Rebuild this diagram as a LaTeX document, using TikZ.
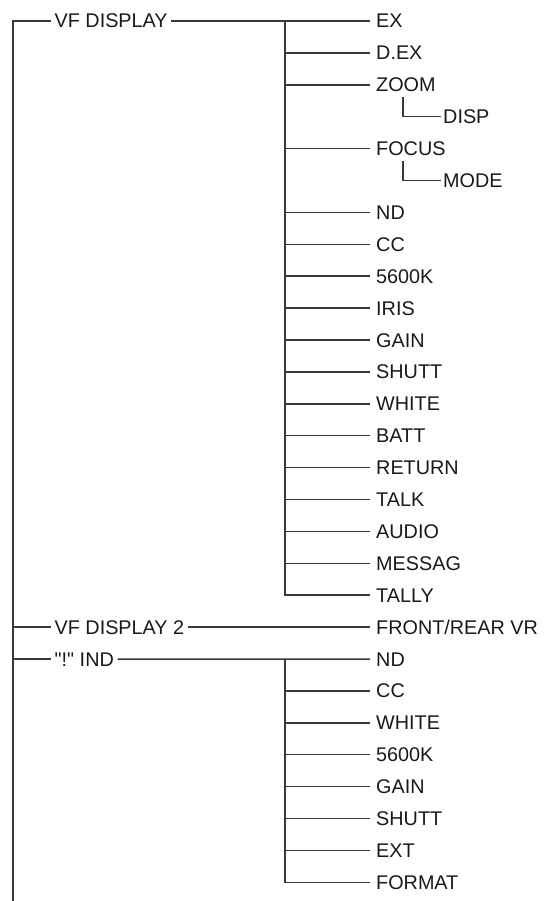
\documentclass[tikz,border=0pt]{standalone}
\usepackage{fontspec}
\setmainfont{Liberation Sans}[Ligatures=TeXOff]
\begin{document}
\begin{tikzpicture}[x=1pt,y=-1pt,
  ln/.style={draw=black!78, line width=1.5pt},
  lbl/.style={anchor=west, inner xsep=6pt, inner ysep=0pt, text height=14pt, text depth=0pt,
    text=black!90, font=\fontsize{19.8}{24}\selectfont},
  sublbl/.style={lbl, inner xsep=2pt},
  midlbl/.style={lbl, inner xsep=3.5pt}]
\useasboundingbox (0,0) rectangle (552,901);
% trunk
\coordinate (t0) at (13,21);
\coordinate (t19) at (13,627.1);
\coordinate (t20) at (13,659);
\coordinate (tb) at (13,901);
% first-level nodes
\node[midlbl] (vf) at (51,21) {VF DISPLAY};
\node[midlbl] (vf2) at (51,627.1) {VF DISPLAY 2};
\node[midlbl] (ind) at (51,659) {"!" IND};
\draw[ln] (vf.west) -- (t0) -- (tb);
\draw[ln] (t19) -- (vf2.west);
\draw[ln] (t20) -- (ind.west);
% VF DISPLAY branch
\foreach \i/\t in {0/EX,1/D.EX,2/ZOOM,4/FOCUS,6/ND,7/CC,8/5600K,9/IRIS,10/GAIN,11/SHUTT,12/WHITE,13/BATT,14/RETURN,15/TALK,16/AUDIO,17/MESSAG,18/TALLY}{
  \node[lbl] (a\i) at (370,{21+31.9*\i}) {\t};
  \coordinate (ja\i) at (285,{21+31.9*\i});
}
\draw[ln] (vf.east) -- (ja0) -- (a0.west);
\draw[ln] (ja0) -- (ja18) -- (a18.west);
\foreach \i in {1,2,4,6,7,8,9,10,11,12,13,14,15,16,17}{
  \draw[ln] (ja\i) -- (a\i.west);
}
% sub items
\node[sublbl] (s3) at (441,116.7) {DISP};
\node[sublbl] (s5) at (441,180.5) {MODE};
\coordinate (z3) at (403,97);
\coordinate (z5) at (403,161);
\draw[ln] (z3) |- (s3.west);
\draw[ln] (z5) |- (s5.west);
% VF DISPLAY 2
\node[lbl] (fr) at (370,627.1) {FRONT/REAR VR};
\draw[ln] (vf2.east) -- (fr.west);
% "!" IND branch
\foreach \i/\t in {20/ND,21/CC,22/WHITE,23/5600K,24/GAIN,25/SHUTT,26/EXT,27/FORMAT}{
  \node[lbl] (b\i) at (370,{21+31.9*\i}) {\t};
  \coordinate (jb\i) at (285,{21+31.9*\i});
}
\draw[ln] (ind.east) -- (jb20) -- (b20.west);
\draw[ln] (jb20) -- (jb27) -- (b27.west);
\foreach \i in {21,22,23,24,25,26}{
  \draw[ln] (jb\i) -- (b\i.west);
}
\end{tikzpicture}
\end{document}
